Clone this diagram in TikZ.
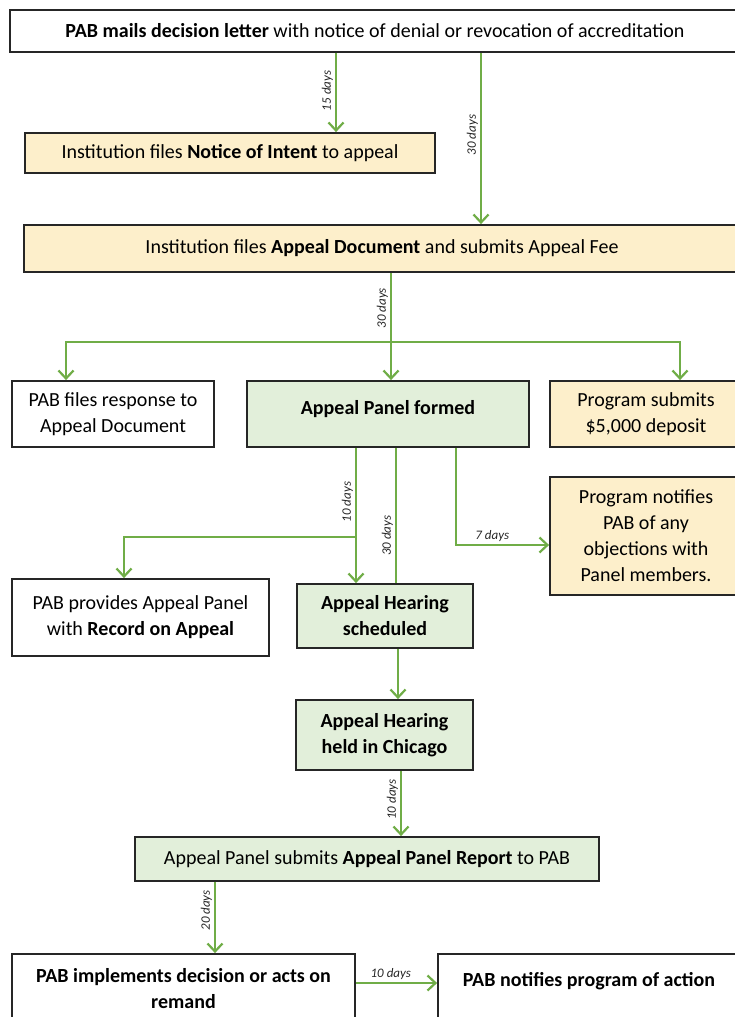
\documentclass[tikz,border=0pt]{standalone}
\usepackage{fontspec}
\setmainfont{Carlito}
\usetikzlibrary{arrows.meta}

\definecolor{flowgreen}{HTML}{70AD47}
\definecolor{boxyellow}{HTML}{FDEFCB}
\definecolor{boxgreen}{HTML}{E2EFDA}

\tikzset{
  box/.style={draw=black!85, line width=1.8pt, fill=white, inner sep=0pt,
    align=center, font=\fontsize{20}{26}\selectfont},
  ybox/.style={box, fill=boxyellow},
  gbox/.style={box, fill=boxgreen},
  link/.style={draw=flowgreen, line width=2.2pt},
  flow/.style={link, -{Straight Barb[length=8pt,width=15pt]}},
  days/.style={font=\fontsize{13}{15}\selectfont\itshape, text=black!85, inner sep=2pt},
  vdays/.style={days, rotate=90, anchor=south}
}

\begin{document}
\begin{tikzpicture}[x=1pt,y=-1pt]
  \useasboundingbox (0,0) rectangle (735,1017);
  \clip (0,0) rectangle (735,1017);

  % boxes
  \node[box, minimum width=730, minimum height=42] (letter) at (375,31)
    {\textbf{PAB mails decision letter} with notice of denial or revocation of accreditation};
  \node[ybox, minimum width=410, minimum height=40] (intent) at (230,153)
    {Institution files \textbf{Notice of Intent} to appeal};
  \node[ybox, minimum width=716, minimum height=47] (document) at (382,248.5)
    {Institution files \textbf{Appeal Document} and submits Appeal Fee};
  \node[box, minimum width=202, minimum height=66] (response) at (113,414)
    {PAB files response to\\Appeal Document};
  \node[gbox, minimum width=282, minimum height=66] (panel) at (388,414)
    {\textbf{Appeal Panel formed}\\[-12pt]\mbox{}};
  \node[ybox, minimum width=192, minimum height=66] (deposit) at (646,414)
    {Program submits\\\$5,000 deposit};
  \node[ybox, minimum width=192, minimum height=118] (objections) at (646,536)
    {Program notifies\\PAB of any\\objections with\\Panel members.};
  \node[box, minimum width=257, minimum height=77] (record) at (140.5,617.5)
    {PAB provides Appeal Panel\\with \textbf{Record on Appeal}};
  \node[gbox, minimum width=176, minimum height=64] (scheduled) at (385,616)
    {\textbf{Appeal Hearing}\\\textbf{scheduled}};
  \node[gbox, minimum width=177, minimum height=70] (held) at (384.5,735)
    {\textbf{Appeal Hearing}\\\textbf{held in Chicago}};
  \node[gbox, minimum width=464, minimum height=44] (report) at (367,859)
    {Appeal Panel submits \textbf{Appeal Panel Report} to PAB};
  \node[box, minimum width=343, minimum height=70] (implements) at (183.5,989)
    {\textbf{PAB implements decision or acts on}\\\textbf{remand}};
  \node[box, minimum width=302, minimum height=70] (notifies) at (589,989)
    {\textbf{PAB notifies program of action}\\[-6pt]\mbox{}};

  % columns and bends of the connectors
  \coordinate (c15) at (336,0);
  \coordinate (c30) at (481,0);
  \coordinate (split) at (391,342);
  \coordinate (splitl) at (66,342);
  \coordinate (splitr) at (680,342);
  \coordinate (c10) at (356,0);
  \coordinate (branch) at (356,537);
  \coordinate (branchl) at (124,537);
  \coordinate (c30b) at (396,0);
  \coordinate (bend7) at (456,545);
  \coordinate (chear) at (398,0);
  \coordinate (crep) at (401,0);
  \coordinate (c20) at (215,0);
  \coordinate (cact) at (0,983);

  % connectors
  \draw[flow] (letter.south -| c15) -- node[vdays, pos=0.48] {15 days} (intent.north -| c15);
  \draw[flow] (letter.south -| c30) -- node[vdays, pos=0.48] {30 days} (document.north -| c30);
  \draw[flow] (document.south -| split) -- node[vdays, pos=0.33] {30 days} (panel.north -| split);
  \draw[flow] (split) -- (splitl) -- (response.north -| splitl);
  \draw[flow] (split) -- (splitr) -- (deposit.north -| splitr);
  \draw[flow] (panel.south -| c10) -- node[vdays, pos=0.4] {10 days} (scheduled.north -| c10);
  \draw[flow] (branch) -- (branchl) -- (record.north -| branchl);
  \draw[link] (panel.south -| c30b) -- node[vdays, pos=0.65] {30 days} (scheduled.north -| c30b);
  \draw[flow] (panel.south -| bend7) -- (bend7) -- node[days, above, pos=0.39] {7 days} (objections.west |- bend7);
  \draw[flow] (scheduled.south -| chear) -- (held.north -| chear);
  \draw[flow] (held.south -| crep) -- node[vdays, pos=0.44] {10 days} (report.north -| crep);
  \draw[flow] (report.south -| c20) -- node[vdays, pos=0.4] {20 days} (implements.north -| c20);
  \draw[flow] (implements.east |- cact) -- node[days, above, pos=0.43] {10 days} (notifies.west |- cact);
\end{tikzpicture}
\end{document}
